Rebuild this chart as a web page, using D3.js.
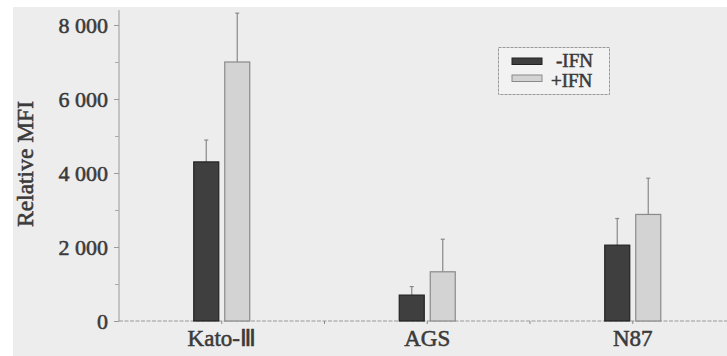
<!DOCTYPE html>
<html><head><meta charset="utf-8">
<script src="https://cdn.jsdelivr.net/npm/d3@7"></script>
<style>body{margin:0;background:#fff}svg{display:block}svg text{font-family:"Liberation Serif","Times New Roman",serif !important;stroke:#3a3a3a;stroke-width:0.55px}</style>
</head><body><svg id="c" width="727" height="356"></svg>
<script>
const categories = ["Kato-\u2162", "AGS", "N87"];
const seriesNames = ["-IFN", "+IFN"];
const minusIFN = [4300, 700, 2050];
const plusIFN = [7000, 1330, 2880];
const minusErr = [590, 230, 720];
const plusErr = [1320, 880, 980];
const yTicks = [0, 2000, 4000, 6000, 8000];
const yTickLabels = ["0", "2 000", "4 000", "6 000", "8 000"];
const yMinor = [1000, 3000, 5000, 7000];

const FONT = "Liberation Serif";
const TXT = "#3a3a3a";
const svg = d3.select("#c");
svg.append("rect").attr("x", 13).attr("y", 7).attr("width", 714).attr("height", 349).attr("fill", "#ededed");

const x = d3.scaleBand().domain(categories).range([119, 735.5]).padding(0);
const y = d3.scaleLinear().domain([0, 8400]).range([321, 10.2]);
const barW = 25, gap = 6;

const colors = ["#3f3f3f", "#d3d3d3"];
const strokes = ["#222", "#8a8a8a"];
const vals = [minusIFN, plusIFN];
const errs = [minusErr, plusErr];

// axes
const yAxis = d3.axisLeft(y).tickValues(yTicks).tickFormat((d, i) => yTickLabels[i]).tickSize(5).tickPadding(6);
const gy = svg.append("g").attr("transform", "translate(119,0)").call(yAxis)
  .attr("font-family", FONT);
gy.select(".domain").attr("stroke", "#999").attr("d", `M0,${y(0)}V${y(8400)}`);
gy.selectAll(".tick line").attr("stroke", "#999");
gy.selectAll(".tick text").attr("font-size", 22).attr("fill", TXT).attr("font-family", FONT);
svg.append("g").attr("transform", "translate(119,0)")
  .call(d3.axisLeft(y).tickValues(yMinor).tickSize(4).tickFormat(""))
  .call(g => { g.select(".domain").remove(); g.selectAll("line").attr("stroke", "#aaa"); });

// x axis line
svg.append("line").attr("x1", 119).attr("x2", 727).attr("y1", y(0)).attr("y2", y(0))
  .attr("stroke", "#999").attr("stroke-dasharray", "4,1.5");
const xTickPos = [];
categories.forEach(c => xTickPos.push(x(c) + x.bandwidth() / 2));
categories.slice(1).forEach(c => xTickPos.push(x(c)));
svg.append("g").selectAll("line").data(xTickPos).join("line")
  .attr("x1", d => d).attr("x2", d => d).attr("y1", y(0)).attr("y2", y(0) + 3).attr("stroke", "#888");

// x labels
svg.append("g").selectAll("text").data(categories).join("text")
  .attr("x", d => x(d) + x.bandwidth() / 2).attr("y", 346).attr("text-anchor", "middle")
  .attr("font-family", FONT).attr("font-size", 23).attr("fill", TXT).text(d => d);

// y label
svg.append("text").attr("transform", "translate(33,164) rotate(-90)").attr("text-anchor", "middle")
  .attr("font-family", FONT).attr("font-size", 23.5).attr("fill", TXT).text("Relative MFI");

// bars
vals.forEach((arr, s) => {
  const g = svg.append("g");
  const bx = (c) => x(c) + x.bandwidth() / 2 + (s === 0 ? -(gap / 2 + barW) : gap / 2);
  g.selectAll("line.e").data(categories).join("line")
    .attr("x1", c => bx(c) + barW / 2).attr("x2", c => bx(c) + barW / 2)
    .attr("y1", (c, i) => y(arr[i])).attr("y2", (c, i) => y(arr[i] + errs[s][i]))
    .attr("stroke", "#888").attr("stroke-width", 1.2);
  g.selectAll("line.c").data(categories).join("line")
    .attr("x1", c => bx(c) + barW / 2 - 2).attr("x2", c => bx(c) + barW / 2 + 2)
    .attr("y1", (c, i) => y(arr[i] + errs[s][i])).attr("y2", (c, i) => y(arr[i] + errs[s][i]))
    .attr("stroke", "#888").attr("stroke-width", 1.2);
  g.selectAll("rect").data(categories).join("rect")
    .attr("x", c => bx(c)).attr("width", barW)
    .attr("y", (c, i) => y(arr[i])).attr("height", (c, i) => y(0) - y(arr[i]))
    .attr("fill", colors[s]).attr("stroke", strokes[s]).attr("stroke-width", 1.2);
});

// legend
const lg = svg.append("g");
lg.append("rect").attr("x", 498.5).attr("y", 47.5).attr("width", 111).attr("height", 47)
  .attr("fill", "#f2f2f2").attr("stroke", "#999").attr("stroke-width", 1).attr("stroke-dasharray", "3,1");
seriesNames.forEach((n, i) => {
  lg.append("rect").attr("x", 512).attr("y", i === 0 ? 58 : 75).attr("width", 30).attr("height", 6.5)
    .attr("fill", colors[i]).attr("stroke", strokes[i]);
  lg.append("text").attr("x", i === 0 ? 556 : 551).attr("y", i === 0 ? 67 : 87)
    .attr("font-family", FONT).attr("font-size", 19).attr("fill", TXT).text(n);
});
</script></body></html>
